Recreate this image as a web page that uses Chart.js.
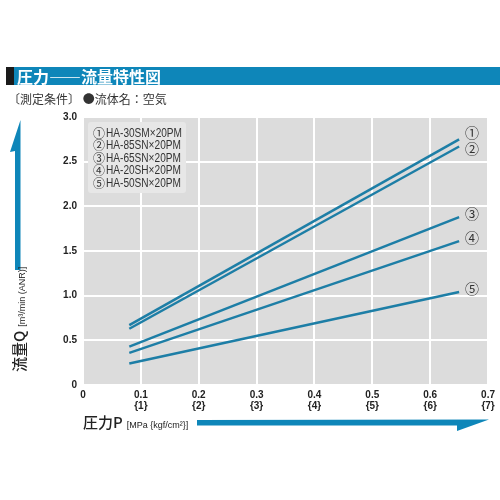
<!DOCTYPE html>
<html>
<head>
<meta charset="utf-8">
<script src="https://cdn.jsdelivr.net/npm/chart.js@4/dist/chart.umd.min.js"></script>
<style>
  html, body { margin: 0; padding: 0; background: #fff; }
  #wrap { position: relative; width: 500px; height: 500px; overflow: hidden; }
  #chart { position: absolute; left: 0; top: 0; }
  .titlebar {
    position: absolute; left: 6px; top: 67px; width: 486px; height: 18px;
    border-left: 8px solid #1b1b1b; background: #0e86b9;
    color: #fff; font: bold 16px/18px "Noto Sans CJK JP", sans-serif;
    padding-left: 3px; white-space: nowrap;
  }
  .cond {
    position: absolute; left: 8px; top: 92px;
    font: 12px/14px "Noto Sans CJK JP", sans-serif; color: #333; white-space: nowrap;
  }
  .ytitle {
    position: absolute; left: 8px; top: 372px; line-height: 18px;
    transform: rotate(-90deg); transform-origin: left top;
    white-space: nowrap; color: #222;
  }
  .xtitle {
    position: absolute; left: 83px; top: 411px; line-height: 18px;
    white-space: nowrap; color: #222;
  }
  .big { font: 500 15px "Noto Sans CJK JP", sans-serif; }
  .small { font: 9px "Liberation Sans", Arial, sans-serif; }
</style>
</head>
<body>
<div id="wrap">
  <canvas id="chart" width="500" height="500"></canvas>
  <div class="titlebar">圧力――流量特性図</div>
  <div class="cond">〔測定条件〕 ●流体名：空気</div>
  <div class="ytitle"><span class="big">流量Q</span> <span class="small">[m³/min (ANR)]</span></div>
  <div class="xtitle"><span class="big">圧力P</span> <span class="small">[MPa {kgf/cm²}]</span></div>
</div>
<script>
// pressure (MPa) at the two ends of each measured line
const pressure = [0.08, 0.65];

// flow rate Q (m3/min ANR)
const flow1 = [0.67, 2.75];
const flow2 = [0.63, 2.67];
const flow3 = [0.43, 1.88];
const flow4 = [0.36, 1.61];
const flow5 = [0.24, 1.04];

const seriesNames = ['HA-30SM×20PM', 'HA-85SN×20PM', 'HA-65SN×20PM', 'HA-20SH×20PM', 'HA-50SN×20PM'];
const markers = ['①', '②', '③', '④', '⑤'];

const xTickLabels = ['0', ['0.1', '{1}'], ['0.2', '{2}'], ['0.3', '{3}'], ['0.4', '{4}'], ['0.5', '{5}'], ['0.6', '{6}'], ['0.7', '{7}']];
const yTickLabels = ['0', '0.5', '1.0', '1.5', '2.0', '2.5', '3.0'];

const lineColor = '#1d7ea6';
const arrowColor = '#0e86b9';
// small vertical nudge of the end markers, px
const markerNudge = [-7, 2, -3, -3, -3];

const allFlows = [flow1, flow2, flow3, flow4, flow5];

const datasets = allFlows.map((f, i) => ({
  label: seriesNames[i],
  data: pressure.map((p, j) => ({ x: p, y: f[j] })),
  borderColor: lineColor,
  borderWidth: 2.5,
  pointRadius: 0,
  tension: 0
}));

const decor = {
  id: 'decor',
  beforeDraw(chart) {
    const { ctx, chartArea: a } = chart;
    ctx.save();
    ctx.fillStyle = '#dcdcdc';
    ctx.fillRect(a.left, a.top, a.right - a.left, a.bottom - a.top);
    ctx.restore();
  },
  beforeDatasetsDraw(chart) {
    const { ctx, chartArea: a } = chart;
    ctx.save();
    ctx.fillStyle = '#e7e7e7';
    ctx.beginPath();
    ctx.roundRect(a.left + 5, a.top + 5, 98, 71, 3);
    ctx.fill();
    ctx.fillStyle = '#333';
    ctx.textBaseline = 'middle';
    seriesNames.forEach((name, i) => {
      const y = a.top + 16 + i * 12.5;
      ctx.font = '12px "Noto Sans CJK JP"';
      ctx.fillText(markers[i], a.left + 10, y);
      // condensed look: squeeze the model name horizontally
      ctx.save();
      ctx.font = '12px "Liberation Sans", sans-serif';
      ctx.translate(a.left + 23, y + 0.5);
      ctx.scale(76 / ctx.measureText(seriesNames[0]).width, 1);
      ctx.fillText(name, 0, 0);
      ctx.restore();
    });
    ctx.restore();
  },
  afterDatasetsDraw(chart) {
    const { ctx, scales } = chart;
    ctx.save();
    ctx.fillStyle = '#333';
    ctx.font = '14px "Noto Sans CJK JP"';
    ctx.textAlign = 'center';
    ctx.textBaseline = 'middle';
    allFlows.forEach((f, i) => {
      const last = f.length - 1;
      const x = scales.x.getPixelForValue(pressure[last]) + 13;
      const y = scales.y.getPixelForValue(f[last]) + markerNudge[i];
      ctx.fillText(markers[i], x, y);
    });
    ctx.restore();
  },
  afterDraw(chart) {
    const { ctx } = chart;
    ctx.save();
    ctx.fillStyle = arrowColor;
    // y axis arrow
    ctx.beginPath();
    ctx.moveTo(20.5, 120);
    ctx.lineTo(20.5, 270);
    ctx.lineTo(15, 270);
    ctx.lineTo(15, 151);
    ctx.lineTo(10, 152);
    ctx.closePath();
    ctx.fill();
    // x axis arrow
    ctx.beginPath();
    ctx.moveTo(197, 420);
    ctx.lineTo(489, 419.5);
    ctx.lineTo(457, 431);
    ctx.lineTo(457, 425.5);
    ctx.lineTo(197, 425.5);
    ctx.closePath();
    ctx.fill();
    ctx.restore();
  }
};

new Chart(document.getElementById('chart'), {
  type: 'line',
  data: { datasets: datasets },
  options: {
    responsive: false,
    animation: false,
    layout: { padding: { top: 117, right: 11, bottom: 0, left: 0 } },
    plugins: {
      legend: { display: false },
      tooltip: { enabled: false },
      title: { display: false }
    },
    scales: {
      x: {
        type: 'linear',
        min: 0,
        max: 0.7,
        afterFit(scale) { scale.height = 115; },
        afterBuildTicks(scale) {
          scale.ticks = xTickLabels.map((_, i) => ({ value: i / 10 }));
        },
        ticks: {
          padding: 5,
          maxRotation: 0,
          autoSkip: false,
          color: '#222',
          font: { family: '"Liberation Sans", Arial, sans-serif', size: 10, weight: 'bold', lineHeight: 1.1 },
          callback: (v, i) => xTickLabels[i]
        },
        grid: { color: '#ffffff', lineWidth: 2, drawTicks: false },
        border: { display: false }
      },
      y: {
        type: 'linear',
        min: 0,
        max: 3,
        afterFit(scale) { scale.width = 83; },
        afterBuildTicks(scale) {
          scale.ticks = yTickLabels.map((_, i) => ({ value: i * 0.5 }));
        },
        ticks: {
          padding: 6,
          autoSkip: false,
          color: '#222',
          font: { family: '"Liberation Sans", Arial, sans-serif', size: 10, weight: 'bold' },
          callback: (v, i) => yTickLabels[i]
        },
        grid: { color: '#ffffff', lineWidth: 2, drawTicks: false },
        border: { display: false }
      }
    }
  },
  plugins: [decor]
});
</script>
</body>
</html>
